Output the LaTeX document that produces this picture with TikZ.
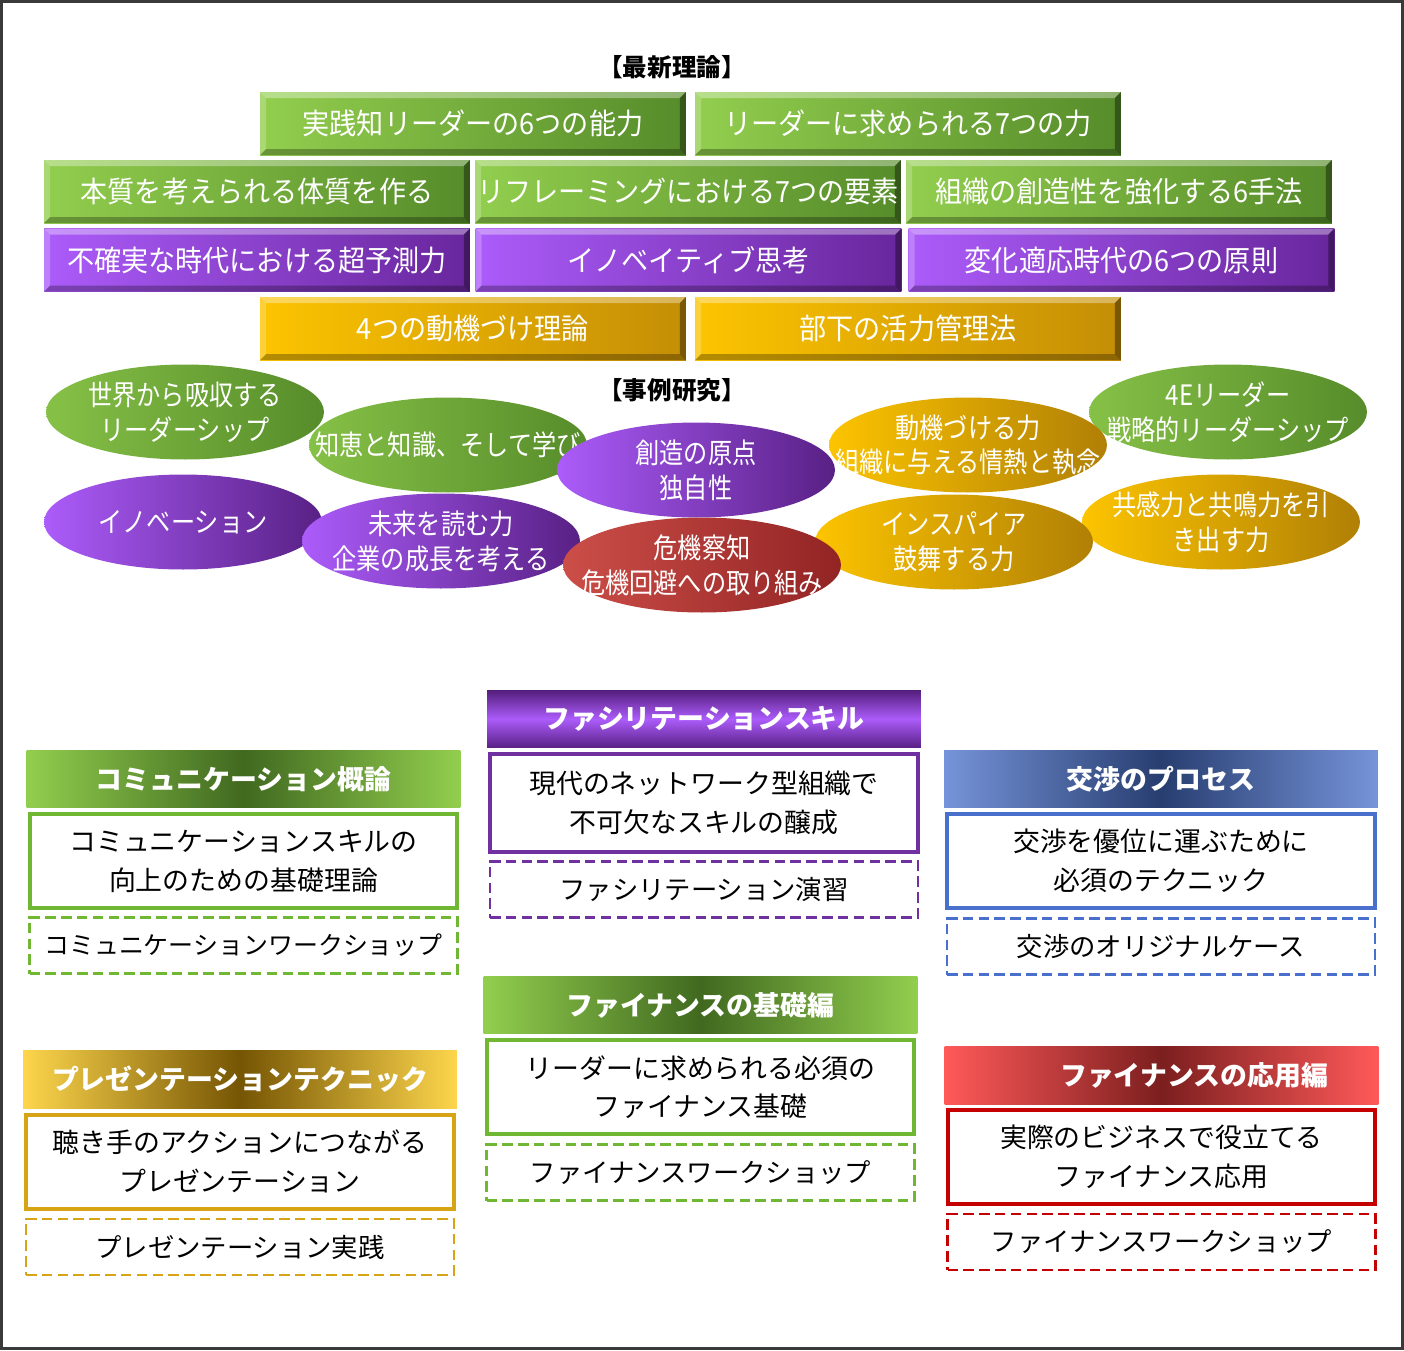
\documentclass[tikz,border=0pt]{standalone}
\usepackage{fontspec}
\setmainfont{Noto Sans CJK JP}
\newfontfamily\narrowff{Noto Sans CJK JP}[FakeStretch=0.86]
\newfontfamily\barff{Noto Sans CJK JP}[FakeStretch=0.93]
\usetikzlibrary{shapes.geometric, positioning}

% colours
\definecolor{grnL}{RGB}{146,206,78}
\definecolor{grnD}{RGB}{86,140,42}
\definecolor{purL}{RGB}{172,92,250}
\definecolor{purD}{RGB}{104,38,156}
\definecolor{gldL}{RGB}{252,196,0}
\definecolor{gldD}{RGB}{196,142,6}
\definecolor{redL}{RGB}{204,78,72}
\definecolor{redD}{RGB}{146,36,36}
\definecolor{frameC}{RGB}{58,58,58}
\definecolor{comC}{RGB}{112,184,52}
\definecolor{preC}{RGB}{214,164,20}
\definecolor{facC}{RGB}{112,48,160}
\definecolor{negC}{RGB}{72,112,204}
\definecolor{finC}{RGB}{196,0,0}

\newcommand\bevw{0.12cm}
\newcommand\barfont{\barff\fontsize{16.6}{18}\selectfont}
\newcommand\ovlfont{\narrowff\fontsize{16}{19.8}\selectfont}
\newcommand\hdrfont{\fontsize{15.3}{18}\selectfont\bfseries}
\newcommand\bodyfont{\fontsize{15.3}{22}\selectfont}
\newcommand\dashfont{\fontsize{15}{18}\selectfont}
% zero-width line, so the ellipse keeps its own size
\newcommand\zb[1]{\makebox[0pt]{#1}}

\begin{document}
\begin{tikzpicture}[
        x=0.02cm, y=-0.02cm,
        node distance = 0.1cm,
        bar/.style={minimum width=8.52cm, minimum height=1.26cm, inner sep=0,
            text=white, font=\barfont,
            path picture={
                \path (path picture bounding box.north west) coordinate (bnw)
                      (path picture bounding box.north east) coordinate (bne)
                      (path picture bounding box.south west) coordinate (bsw)
                      (path picture bounding box.south east) coordinate (bse);
                \fill[white, opacity=.35] (bnw) -- (bne) -- ([shift={(-\bevw,-\bevw)}]bne) -- ([shift={(\bevw,-\bevw)}]bnw) -- cycle;
                \fill[black, opacity=.28] (bsw) -- (bse) -- ([shift={(-\bevw,\bevw)}]bse) -- ([shift={(\bevw,\bevw)}]bsw) -- cycle;
                \fill[white, opacity=.22] (bnw) -- ([shift={(\bevw,-\bevw)}]bnw) -- ([shift={(\bevw,\bevw)}]bsw) -- (bsw) -- cycle;
                \fill[black, opacity=.38] (bne) -- ([shift={(-\bevw,-\bevw)}]bne) -- ([shift={(-\bevw,\bevw)}]bse) -- (bse) -- cycle;
            }},
        grnbar/.style={bar, left color=grnL, right color=grnD},
        purbar/.style={bar, left color=purL, right color=purD},
        gldbar/.style={bar, left color=gldL, right color=gldD},
        ovl/.style={ellipse, minimum width=5.56cm, minimum height=1.9cm, inner sep=0,
            text=white, font=\ovlfont, align=center},
        grnov/.style={ovl, left color=grnL!80!grnD, right color=grnD},
        purov/.style={ovl, left color=purL, right color=purD!85!black},
        gldov/.style={ovl, left color=gldL, right color=gldD!90!black},
        redov/.style={ovl, left color=redL, right color=redD},
        title/.style={font=\fontsize{14}{16}\selectfont\bfseries},
        hdr/.style={minimum width=8.68cm, minimum height=1.15cm, inner sep=0,
            text=white, font=\hdrfont},
        solidbox/.style={draw=#1, line width=2.3pt, fill=white, minimum width=8.56cm,
            minimum height=1.88cm, inner sep=0, align=center, font=\bodyfont},
        dashbox/.style={draw=#1, line width=1.6pt, dash pattern=on 6pt off 3pt,
            fill=white, minimum width=8.56cm, minimum height=1.12cm, inner sep=0,
            font=\dashfont},
    ]
    \useasboundingbox (0,0) rectangle (1404,1350);
    \draw[frameC, line width=0.07cm] (1.5,1.5) rectangle (1402.5,1348.3);

    % latest theory
    \node[title] (ttheory) at (672,67) {【最新理論】};
    \node[grnbar] (t1) at (473,123.5) {実践知リーダーの6つの能力};
    \node[grnbar] (t2) at (908,123.5) {リーダーに求められる7つの力};
    \node[grnbar] (t3) at (257,191.5) {本質を考えられる体質を作る};
    \node[grnbar] (t4) at (688,191.5) {リフレーミングにおける7つの要素};
    \node[grnbar] (t5) at (1119,191.5) {組織の創造性を強化する6手法};
    \node[purbar] (t6) at (257,260) {不確実な時代における超予測力};
    \node[purbar] (t7) at (688.5,260) {イノベイティブ思考};
    \node[purbar] (t8) at (1121.5,260) {変化適応時代の6つの原則};
    \node[gldbar] (t9) at (473,328.5) {4つの動機づけ理論};
    \node[gldbar] (t10) at (908,328.5) {部下の活力管理法};

    % case studies
    \node[title] (tcase) at (672,390) {【事例研究】};
    \node[grnov] (c1) at (185,412) {\zb{世界から吸収する}\\\zb{リーダーシップ}};
    \node[grnov] (c2) at (448,445) {\zb{知恵と知識、そして学び}};
    \node[grnov] (c5) at (1228,412) {\zb{4Eリーダー}\\\zb{戦略的リーダーシップ}};
    \node[gldov] (c4) at (968,445) {\zb{動機づける力}\\\zb{組織に与える情熱と執念}};
    \node[purov] (c3) at (696,470) {\zb{創造の原点}\\\zb{独自性}};
    \node[purov] (c6) at (183,522) {\zb{イノベーション}};
    \node[purov] (c7) at (441,541) {\zb{未来を読む力}\\\zb{企業の成長を考える}};
    \node[gldov] (c10) at (1221,522) {\zb{共感力と共鳴力を引}\\\zb{き出す力}};
    \node[gldov] (c9) at (954,542) {\zb{インスパイア}\\\zb{鼓舞する力}};
    \node[redov] (c8) at (702,565) {\zb{危機察知}\\\zb{危機回避への取り組み}};

    % communication
    \node[hdr, left color=grnL, right color=grnL, middle color=grnD!75!black] (comH) at (243.5,779) {コミュニケーション概論};
    \node[solidbox=comC, below=0.08cm of comH] (comB) {コミュニケーションスキルの\\向上のための基礎理論};
    \node[dashbox=comC, below=0.12cm of comB, font=\fontsize{14.2}{18}\selectfont] (comW) {コミュニケーションワークショップ};

    % presentation
    \node[hdr, left color=gldL!70!white, right color=gldL!70!white, middle color=gldD!60!black] (preH) at (240,1079.5) {プレゼンテーションテクニック};
    \node[solidbox=preC, below=0.08cm of preH] (preB) {聴き手のアクションにつながる\\プレゼンテーション};
    \node[dashbox=preC, below=0.14cm of preB] (preW) {プレゼンテーション実践};

    % facilitation
    \node[hdr, top color=purD!80!black, bottom color=purD!85!black, middle color=purL] (facH) at (704,719) {ファシリテーションスキル};
    \node[solidbox=facC, below=0.08cm of facH, minimum height=1.96cm] (facB) {現代のネットワーク型組織で\\不可欠なスキルの醸成};
    \node[dashbox=facC, below=0.12cm of facB] (facW) {ファシリテーション演習};

    % finance basics
    \node[hdr, left color=grnL, right color=grnL, middle color=grnD!75!black] (fbH) at (700.5,1005) {ファイナンスの基礎編};
    \node[solidbox=comC, below=0.08cm of fbH] (fbB) {リーダーに求められる必須の\\ファイナンス基礎};
    \node[dashbox=comC, below=0.14cm of fbB] (fbW) {ファイナンスワークショップ};

    % negotiation
    \node[hdr, left color=negC!75!white, right color=negC!75!white, middle color=negC!55!black] (negH) at (1161,779) {交渉のプロセス};
    \node[solidbox=negC, below=0.08cm of negH] (negB) {交渉を優位に運ぶために\\必須のテクニック};
    \node[dashbox=negC, below=0.14cm of negB] (negW) {交渉のオリジナルケース};

    % finance applied
    \node[hdr, left color=red!65!white, right color=red!65!white, middle color=redD!85!black] (faH) at (1161.5,1075.5) {\hspace*{1.3cm}ファイナンスの応用編};
    \node[solidbox=finC, below=0.06cm of faH] (faB) {実際のビジネスで役立てる\\ファイナンス応用};
    \node[dashbox=finC, below=0.14cm of faB] (faW) {ファイナンスワークショップ};
\end{tikzpicture}
\end{document}
